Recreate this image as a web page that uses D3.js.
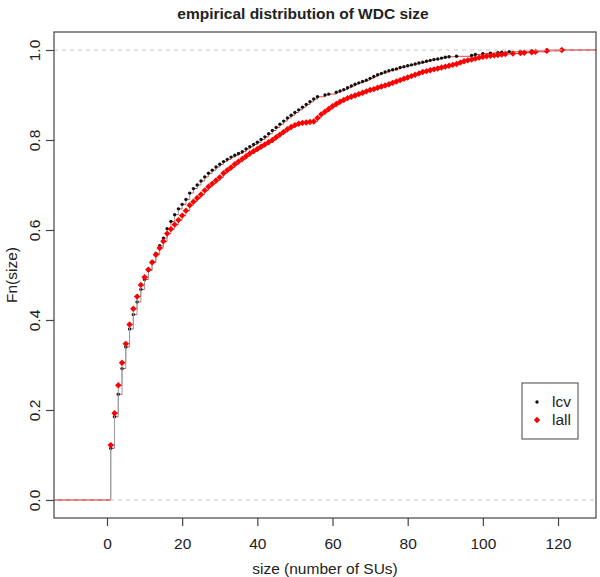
<!DOCTYPE html>
<html>
<head>
<meta charset="utf-8">
<script src="https://cdn.jsdelivr.net/npm/d3@7"></script>
<style>
	body { margin: 0; background: #fff; }
	svg { font-family: "Liberation Sans", Arial, sans-serif; }
</style>
</head>
<body>
<svg id="chart" width="600" height="577"></svg>
<script>
// lcv ecdf knots (size) and Fn values
var lcv_x = [1, 2, 3, 4, 5, 6, 7, 8, 9, 10, 11, 12, 13, 14, 15, 16, 17, 18, 19, 20,
	21, 22, 23, 24, 25, 26, 27, 28, 29, 30, 31, 32, 33, 34, 35, 36, 37, 38, 39, 40,
	41, 42, 43, 44, 45, 46, 47, 48, 49, 50, 51, 52, 53, 54, 55, 56, 58, 59, 61, 62,
	63, 64, 65, 66, 67, 68, 69, 70, 71, 72, 73, 74, 75, 76, 77, 78, 79, 80, 81, 82,
	83, 84, 85, 86, 87, 88, 89, 90, 91, 93, 97, 98, 100, 102, 104, 105, 107, 110, 113, 117];
var lcv_fn = [0.115, 0.185, 0.235, 0.292, 0.34, 0.38, 0.412, 0.44, 0.468, 0.49, 0.51, 0.53, 0.548, 0.565, 0.582, 0.603, 0.619, 0.634, 0.647, 0.657,
	0.668, 0.682, 0.692, 0.70, 0.709, 0.718, 0.726, 0.733, 0.74, 0.746, 0.752, 0.757, 0.762, 0.766, 0.77, 0.774, 0.78, 0.785, 0.79, 0.795,
	0.801, 0.807, 0.814, 0.821, 0.828, 0.835, 0.842, 0.849, 0.855, 0.861, 0.867, 0.873, 0.879, 0.885, 0.891, 0.896, 0.90, 0.902, 0.906, 0.909,
	0.912, 0.916, 0.92, 0.924, 0.927, 0.93, 0.933, 0.937, 0.941, 0.945, 0.948, 0.951, 0.954, 0.956, 0.958, 0.961, 0.963, 0.965, 0.967, 0.969,
	0.971, 0.973, 0.975, 0.977, 0.979, 0.98, 0.982, 0.984, 0.985, 0.986, 0.988, 0.99, 0.992, 0.993, 0.994, 0.995, 0.996, 0.997, 0.998, 1.0];

// lall ecdf knots and Fn values
var lall_x = [1, 2, 3, 4, 5, 6, 7, 8, 9, 10, 11, 12, 13, 14, 15, 16, 17, 18, 19, 20,
	21, 22, 23, 24, 25, 26, 27, 28, 29, 30, 31, 32, 33, 34, 35, 36, 37, 38, 39, 40,
	41, 42, 43, 44, 45, 46, 47, 48, 49, 50, 51, 52, 53, 54, 55, 56, 57, 58, 59, 60,
	61, 62, 63, 64, 65, 66, 67, 68, 69, 70, 71, 72, 73, 74, 75, 76, 77, 78, 79, 80,
	81, 82, 83, 84, 85, 86, 87, 88, 89, 90, 91, 92, 93, 94, 95, 96, 97, 98, 99, 100,
	101, 102, 103, 104, 105, 106, 108, 110, 111, 113, 114, 117, 121];
var lall_fn = [0.122, 0.193, 0.255, 0.305, 0.347, 0.39, 0.425, 0.452, 0.478, 0.495, 0.512, 0.528, 0.545, 0.56, 0.575, 0.592, 0.602, 0.612, 0.622, 0.632,
	0.643, 0.655, 0.663, 0.671, 0.679, 0.688, 0.696, 0.703, 0.71, 0.717, 0.726, 0.733, 0.739, 0.746, 0.752, 0.758, 0.764, 0.77, 0.775, 0.78,
	0.785, 0.79, 0.795, 0.80, 0.806, 0.812, 0.818, 0.824, 0.829, 0.833, 0.836, 0.838, 0.839, 0.84, 0.841, 0.849, 0.857, 0.863, 0.869, 0.875,
	0.88, 0.885, 0.889, 0.893, 0.896, 0.899, 0.902, 0.905, 0.908, 0.911, 0.913, 0.916, 0.919, 0.921, 0.924, 0.927, 0.93, 0.933, 0.936, 0.939,
	0.942, 0.945, 0.948, 0.951, 0.953, 0.955, 0.957, 0.959, 0.961, 0.963, 0.965, 0.967, 0.969, 0.972, 0.975, 0.977, 0.979, 0.981, 0.983, 0.985,
	0.986, 0.987, 0.988, 0.989, 0.99, 0.991, 0.992, 0.993, 0.994, 0.995, 0.996, 0.998, 1.0];

var x_ticks = [0, 20, 40, 60, 80, 100, 120];
var y_ticks = [0, 0.2, 0.4, 0.6, 0.8, 1.0];
var legend_labels = ["lcv", "lall"];

var svg = d3.select("#chart");

var box = {left: 54, right: 596, top: 32, bottom: 518};

var x = d3.scaleLinear().domain([-14.1, 130.1]).range([box.left, box.right]);
var y = d3.scaleLinear().domain([-0.04, 1.04]).range([box.bottom, box.top]);

//title
svg.append("text")
	.attr("x", 303)
	.attr("y", 19)
	.attr("text-anchor", "middle")
	.attr("font-size", "15.5px")
	.attr("font-weight", "bold")
	.attr("fill", "#222")
	.text("empirical distribution of WDC size");

// step function for one series: horizontals red, verticals gray
var drawSeries = function(xs, fs) {
	var hor = [], vert = [];
	hor.push({x1: x.domain()[0], x2: xs[0], f: 0});
	vert.push({x: xs[0], f1: 0, f2: fs[0]});
	for (var i = 0; i < xs.length; i++) {
		var next = i < xs.length - 1 ? xs[i + 1] : x.domain()[1];
		hor.push({x1: xs[i], x2: next, f: fs[i]});
		if (i < xs.length - 1) {
			vert.push({x: xs[i + 1], f1: fs[i], f2: fs[i + 1]});
		}
	}
	var g = svg.append("g");
	g.selectAll(".vert")
		.data(vert)
		.enter()
		.append("line")
		.attr("class", "vert")
		.attr("x1", function(d) { return x(d.x); })
		.attr("x2", function(d) { return x(d.x); })
		.attr("y1", function(d) { return y(d.f1); })
		.attr("y2", function(d) { return y(d.f2); })
		.attr("stroke", "#9a9a9a")
		.attr("stroke-width", 1);
	g.selectAll(".hor")
		.data(hor)
		.enter()
		.append("line")
		.attr("class", "hor")
		.attr("x1", function(d) { return x(d.x1); })
		.attr("x2", function(d) { return x(d.x2); })
		.attr("y1", function(d) { return y(d.f); })
		.attr("y2", function(d) { return y(d.f); })
		.attr("stroke", "#e8423f")
		.attr("stroke-width", 1);
	return g;
};

var g_lcv = drawSeries(lcv_x, lcv_fn);
g_lcv.selectAll(".pt")
	.data(d3.range(lcv_x.length))
	.enter()
	.append("circle")
	.attr("class", "pt")
	.attr("cx", function(i) { return x(lcv_x[i]); })
	.attr("cy", function(i) { return y(lcv_fn[i]); })
	.attr("r", 1.7)
	.attr("fill", "#111");

var diamond = d3.symbol().type(d3.symbolDiamond2).size(26);

var g_lall = drawSeries(lall_x, lall_fn);
g_lall.selectAll(".pt")
	.data(d3.range(lall_x.length))
	.enter()
	.append("path")
	.attr("class", "pt")
	.attr("d", diamond)
	.attr("transform", function(i) {
		return "translate(" + x(lall_x[i]) + "," + y(lall_fn[i]) + ")";
	})
	.attr("fill", "#ff0000");

//dashed reference lines at 0 and 1
svg.selectAll(".hline")
	.data([0, 1])
	.enter()
	.append("line")
	.attr("class", "hline")
	.attr("x1", box.left)
	.attr("x2", box.right)
	.attr("y1", function(d) { return y(d); })
	.attr("y2", function(d) { return y(d); })
	.attr("stroke", "#c4c4c4")
	.attr("stroke-dasharray", "4,4");

//box
svg.append("rect")
	.attr("x", box.left)
	.attr("y", box.top)
	.attr("width", box.right - box.left)
	.attr("height", box.bottom - box.top)
	.attr("fill", "none")
	.attr("stroke", "#444")
	.attr("stroke-width", 1.2);

//x axis
var xAxis = svg.append("g")
	.attr("transform", "translate(0," + box.bottom + ")")
	.call(d3.axisBottom(x).tickValues(x_ticks).tickSize(8).tickPadding(12).tickFormat(d3.format("d")));
xAxis.select(".domain").remove();
xAxis.selectAll("line").attr("stroke", "#444").attr("stroke-width", 1.2);
xAxis.selectAll("text")
	.attr("font-size", "15.5px")
	.attr("fill", "#222")
	.attr("font-family", "Liberation Sans, Arial, sans-serif");

//y axis, labels rotated like R
var yAxis = svg.append("g")
	.attr("transform", "translate(" + box.left + ",0)")
	.call(d3.axisLeft(y).tickValues(y_ticks).tickSize(8).tickFormat(d3.format(".1f")));
yAxis.select(".domain").remove();
yAxis.selectAll("line").attr("stroke", "#444").attr("stroke-width", 1.2);
yAxis.selectAll("text")
	.attr("x", null)
	.attr("dy", null)
	.attr("text-anchor", "middle")
	.attr("transform", "translate(-14,0) rotate(-90)")
	.attr("font-size", "15.5px")
	.attr("fill", "#222")
	.attr("font-family", "Liberation Sans, Arial, sans-serif");

//axis titles
svg.append("text")
	.attr("x", (box.left + box.right) / 2)
	.attr("y", 574)
	.attr("text-anchor", "middle")
	.attr("font-size", "15.5px")
	.attr("fill", "#222")
	.text("size (number of SUs)");

svg.append("text")
	.attr("transform", "translate(17," + (box.top + box.bottom) / 2 + ") rotate(-90)")
	.attr("text-anchor", "middle")
	.attr("font-size", "15.5px")
	.attr("fill", "#222")
	.text("Fn(size)");

//legend
var legend = svg.append("g").attr("transform", "translate(522,383)");
legend.append("rect")
	.attr("width", 56)
	.attr("height", 56)
	.attr("fill", "#fff")
	.attr("stroke", "#444")
	.attr("stroke-width", 1);
var item = legend.selectAll(".item")
	.data(legend_labels)
	.enter()
	.append("g")
	.attr("class", "item")
	.attr("transform", function(d, i) { return "translate(15," + (19 + i * 18) + ")"; });
item.append("path")
	.attr("d", function(d, i) {
		return i == 0 ? d3.symbol().type(d3.symbolCircle).size(9)() : diamond();
	})
	.attr("fill", function(d, i) { return i == 0 ? "#111" : "#ff0000"; });
item.append("text")
	.attr("x", 15)
	.attr("y", 5)
	.attr("font-size", "15.5px")
	.attr("fill", "#222")
	.text(function(d) { return d; });
</script>
</body>
</html>
